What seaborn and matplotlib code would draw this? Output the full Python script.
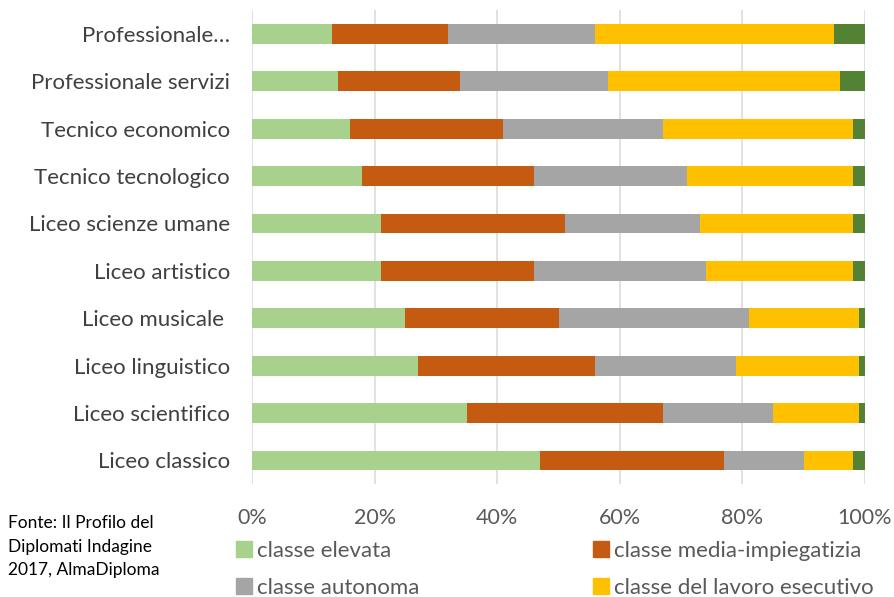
import seaborn as sns
import matplotlib.pyplot as plt
import numpy as np
from matplotlib.patches import Patch
from matplotlib.ticker import FuncFormatter

categories = ["Professionale…", "Professionale servizi", "Tecnico economico",
              "Tecnico tecnologico", "Liceo scienze umane", "Liceo artistico",
              "Liceo musicale ", "Liceo linguistico", "Liceo scientifico",
              "Liceo classico"]

series_names = ["classe elevata", "classe media-impiegatizia", "classe autonoma",
                "classe del lavoro esecutivo", "non indicato"]

elevata = [13, 14, 16, 18, 21, 21, 25, 27, 35, 47]
media_impiegatizia = [19, 20, 25, 28, 30, 25, 25, 29, 32, 30]
autonoma = [24, 24, 26, 25, 22, 28, 31, 23, 18, 13]
lavoro_esecutivo = [39, 38, 31, 27, 25, 24, 18, 20, 14, 8]
non_indicato = [5, 4, 2, 2, 2, 2, 1, 1, 1, 2]

colors = ["#A9D18E", "#C55A11", "#A5A5A5", "#FFC000", "#548235"]

source_text = "Fonte: Il Profilo del\nDiplomati Indagine\n2017, AlmaDiploma"

sns.set_theme(style="whitegrid")
plt.rcParams['font.family'] = ['Lato', 'DejaVu Sans']

fig = plt.figure(figsize=(8.95, 5.97), dpi=100)
ax = fig.add_axes([0.2816, 0.189, 0.6849, 0.794])

# stacked bars: draw cumulative totals from the longest to the shortest
values = np.array([elevata, media_impiegatizia, autonoma, lavoro_esecutivo, non_indicato], dtype=float)
cumulative = np.cumsum(values, axis=0)
for i in range(len(series_names) - 1, -1, -1):
    sns.barplot(x=cumulative[i], y=categories, orient="h", color=colors[i],
                saturation=1, width=0.42, linewidth=0, ax=ax)

ax.set_xlim(0, 100)
ax.set_ylim(len(categories) - 0.5, -0.5)
ax.set_xticks([0, 20, 40, 60, 80, 100])
ax.xaxis.set_major_formatter(FuncFormatter(lambda v, p: f"{v:.0f}%"))
ax.set_facecolor("white")
ax.grid(axis="x", color="#D9D9D9", linewidth=1.1)
ax.grid(axis="y", visible=False)
ax.set_axisbelow(True)
for s in ax.spines.values():
    s.set_visible(False)
ax.set_xlabel("")
ax.set_ylabel("")
ax.tick_params(axis="x", length=0, pad=17, labelsize=15.5, labelcolor="#595959")
ax.tick_params(axis="y", length=0, pad=16, labelsize=16, labelcolor="#404040")

handles = [Patch(color=colors[0]), Patch(color=colors[2]),
           Patch(color=colors[1]), Patch(color=colors[3])]
labels = [series_names[0], series_names[2], series_names[1], series_names[3]]
fig.legend(handles, labels, ncol=2, loc="upper left", bbox_to_anchor=(0.264, 0.094),
           frameon=False, fontsize=16, labelcolor="#595959",
           handlelength=0.7, handleheight=0.7, handletextpad=0.25,
           columnspacing=7.8, labelspacing=0.75, borderaxespad=0, borderpad=0)

fig.text(0.009, 0.137, source_text, fontsize=12.5, color="#000000",
         va="top", ha="left", linespacing=1.58)

fig.savefig("out.png", dpi=100, facecolor="white")
